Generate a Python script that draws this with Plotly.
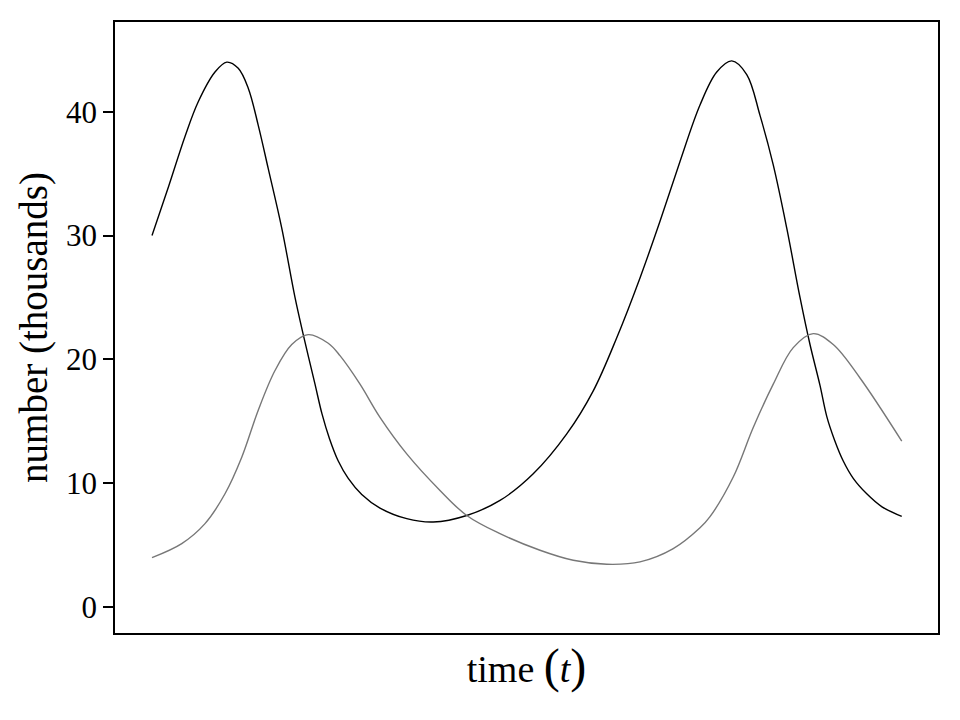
import plotly.graph_objects as go

# time (arbitrary units) and populations (thousands)
t_prey = [0.0, 0.67, 1.32, 1.85, 2.52, 2.99, 3.45, 3.85, 4.25, 4.65, 5.19, 5.72, 6.05,
          6.52, 6.8, 7.1, 7.45, 7.85, 8.39, 9.12, 10.19, 11.25, 12.59, 13.92, 15.25,
          16.59, 17.65, 18.59, 19.52, 20.32, 21.12, 21.92, 22.59, 23.19, 23.79, 24.32,
          24.85, 25.39, 25.92, 26.32, 26.72, 26.99, 27.3, 27.65, 28.05, 28.59, 29.2, 29.99]
prey = [30.0, 34.0, 38.0, 40.8, 43.2, 44.0, 43.5, 41.9, 38.9, 35.4, 30.6, 25.0, 22.0,
        18.0, 15.6, 13.6, 11.8, 10.4, 9.1, 8.0, 7.14, 6.87, 7.4, 8.61, 10.76,
        13.98, 17.46, 21.75, 26.58, 31.15, 35.98, 40.54, 43.2, 44.1, 43.0, 39.7,
        35.7, 30.6, 25.0, 21.2, 17.9, 15.4, 13.5, 11.8, 10.4, 9.15, 8.1, 7.32]

t_pred = [0.0, 1.19, 2.12, 2.92, 3.59, 4.25, 4.92, 5.59, 6.25, 7.05, 7.52, 8.32, 9.12,
          10.19, 11.52, 12.59, 13.92, 15.52, 16.85, 18.19, 19.52, 20.85, 21.92, 22.32,
          23.25, 24.05, 24.85, 25.65, 26.45, 27.25, 28.32, 29.99]
pred = [4.0, 5.13, 6.74, 9.15, 12.1, 15.9, 19.1, 21.2, 22.0, 21.3, 20.3, 18.0, 15.32,
        12.37, 9.42, 7.4, 5.93, 4.59, 3.78, 3.46, 3.65, 4.72, 6.4, 7.3,
        10.5, 14.5, 18.0, 20.95, 22.08, 21.2, 18.5, 13.4]

y_ticks = [0, 10, 20, 30, 40]

SERIF = "Liberation Serif, Times New Roman, serif"

fig = go.Figure()
fig.add_trace(go.Scatter(x=t_prey, y=prey, mode="lines",
                         line=dict(color="black", width=1.4, shape="spline", smoothing=1.0),
                         showlegend=False, hoverinfo="skip"))
fig.add_trace(go.Scatter(x=t_pred, y=pred, mode="lines",
                         line=dict(color="#777777", width=1.4, shape="spline", smoothing=1.0),
                         showlegend=False, hoverinfo="skip"))

fig.update_layout(
    width=960, height=720,
    margin=dict(l=107, r=30, t=12, b=95),
    paper_bgcolor="white", plot_bgcolor="white",
    font=dict(family=SERIF, color="black"),
    xaxis=dict(
        range=[-1.48, 31.44], showgrid=False, zeroline=False,
        showticklabels=False, ticks="",
        showline=True, linecolor="black", linewidth=1.5, mirror=True,
        title=dict(text="time <span style=\"font-size:48px\">(</span><i>t</i><span style=\"font-size:48px\">)</span>",
                   font=dict(family=SERIF, size=38), standoff=22),
    ),
    yaxis=dict(
        range=[-2.09, 47.24], showgrid=False, zeroline=False,
        tickmode="array", tickvals=y_ticks, ticktext=[str(v) for v in y_ticks],
        ticks="outside", ticklen=10, tickwidth=1.5, tickcolor="black",
        tickfont=dict(family=SERIF, size=31),
        showline=True, linecolor="black", linewidth=1.5, mirror=True,
        title=dict(text="number (thousands)", font=dict(family=SERIF, size=39), standoff=6),
    ),
)

fig.write_html("out.html")
